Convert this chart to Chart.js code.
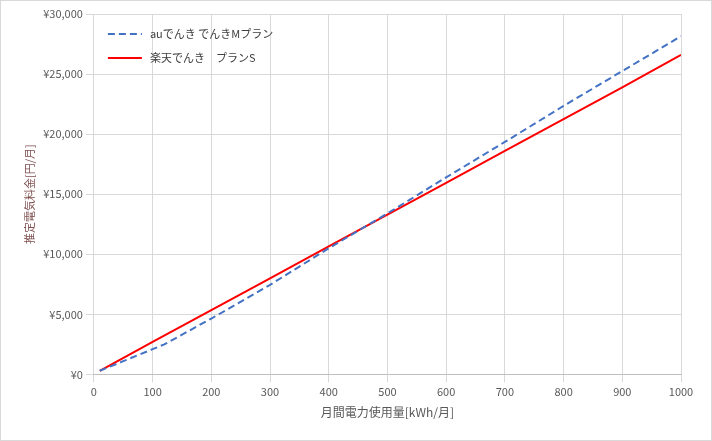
<!DOCTYPE html>
<html><head><meta charset="utf-8">
<script src="https://cdn.jsdelivr.net/npm/chart.js@4"></script>
<style>
html,body{margin:0;padding:0;background:#fff;}
#wrap{position:absolute;left:0;top:0;width:710px;height:439px;border:1px solid #d9d9d9;}
</style></head><body>
<div id="wrap"><canvas id="c"></canvas></div>
<script>
const auX = [10, 50, 100, 120, 200, 300, 400, 500, 600, 700, 800, 900, 1000];
const auY = [300, 1100, 2100, 2500, 4650, 7450, 10500, 13400, 16400, 19350, 22350, 25250, 28150];
const rakutenX = [10, 100, 200, 300, 400, 500, 600, 700, 800, 900, 1000];
const rakutenY = [300, 2700, 5350, 8000, 10650, 13300, 15950, 18600, 21250, 23900, 26600];
const seriesNames = ['auでんき でんきMプラン', '楽天でんき　プランS'];

const FONT = '"Noto Sans CJK JP", "Noto Sans", sans-serif';

const insideLegend = {
  id: 'insideLegend',
  afterDraw(chart) {
    const ctx = chart.ctx;
    const a = chart.chartArea;
    chart.data.datasets.forEach((ds, i) => {
      const y = a.top + 20 + i * 24;
      const x = a.left + 14;
      ctx.save();
      ctx.strokeStyle = ds.borderColor;
      ctx.lineWidth = ds.borderWidth;
      ctx.setLineDash(ds.borderDash || []);
      ctx.beginPath(); ctx.moveTo(x, y); ctx.lineTo(x + 34, y); ctx.stroke();
      ctx.setLineDash([]);
      ctx.fillStyle = '#404040';
      ctx.font = '11px ' + FONT;
      ctx.textBaseline = 'middle';
      ctx.fillText(ds.label, x + 42, y);
      ctx.restore();
    });
  }
};

new Chart(document.getElementById('c'), {
  type: 'line',
  data: {
    datasets: [
      { label: seriesNames[0], data: auX.map((x, i) => ({ x, y: auY[i] })),
        borderColor: '#4472c4', borderWidth: 2, borderDash: [7, 4], pointRadius: 0, fill: false },
      { label: seriesNames[1], data: rakutenX.map((x, i) => ({ x, y: rakutenY[i] })),
        borderColor: '#ff0000', borderWidth: 2, pointRadius: 0, fill: false },
    ],
  },
  options: {
    responsive: true,
    maintainAspectRatio: false,
    animation: false,
    layout: { padding: { top: 13, right: 30, bottom: 16, left: 18 } },
    plugins: { legend: { display: false }, tooltip: { enabled: false } },
    scales: {
      x: {
        type: 'linear', min: 0, max: 1000,
        ticks: { stepSize: 100, color: '#595959', font: { size: 11, family: FONT }, callback: v => String(v) },
        grid: { color: '#d9d9d9' }, border: { color: '#bfbfbf' },
        title: { display: true, text: '月間電力使用量[kWh/月]', color: '#595959', font: { size: 12, family: FONT } },
      },
      y: {
        min: 0, max: 30000,
        ticks: { stepSize: 5000, color: '#595959', font: { size: 11, family: FONT },
          callback: v => '¥' + v.toLocaleString('en-US') },
        grid: { color: '#d9d9d9' }, border: { display: false },
        title: { display: true, text: '推定電気料金[円/月]', color: '#7f4f4f', font: { size: 11, family: FONT } },
      },
    },
  },
  plugins: [insideLegend],
});
</script>
</body></html>
